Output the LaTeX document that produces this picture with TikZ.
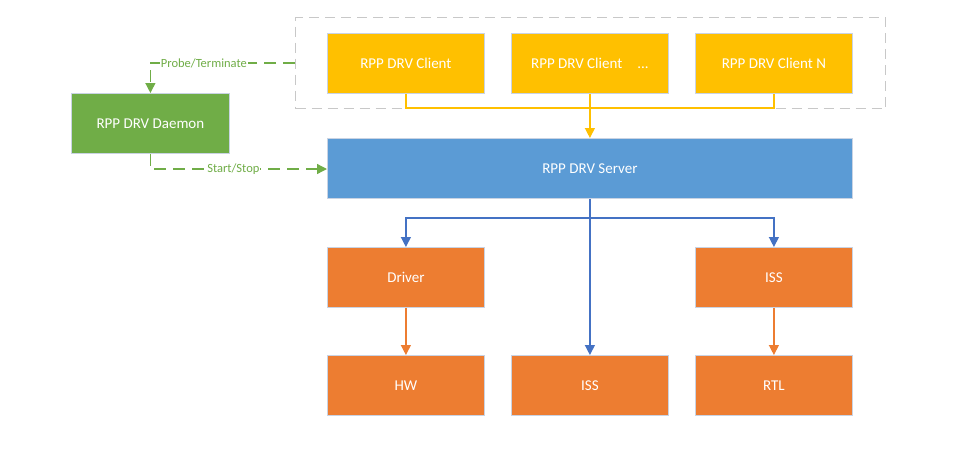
\documentclass[tikz,border=0pt]{standalone}
\usepackage{fontspec}
\setmainfont{Carlito}
\usetikzlibrary{arrows.meta,positioning}
\definecolor{cyel}{HTML}{FFC000}
\definecolor{cblue}{HTML}{5B9BD5}
\definecolor{corange}{HTML}{ED7D31}
\definecolor{cgreen}{HTML}{70AD47}
\definecolor{cline}{HTML}{4472C4}
\definecolor{cgray}{HTML}{C8C8C8}
\definecolor{cedge}{HTML}{C9D3E3}
\begin{document}
\begin{tikzpicture}[x=1pt,y=-1pt,
  boxst/.style={draw=cedge,line width=0.8pt,text=white,font=\fontsize{15}{17}\selectfont,inner sep=0pt,anchor=north west},
  yelbox/.style={boxst,fill=cyel,minimum width=157pt,minimum height=60pt},
  orbox/.style={boxst,fill=corange,minimum width=157pt,minimum height=60pt},
  conn/.style={line width=1.3pt,-{Triangle[length=10pt,width=10pt]}},
  dsh/.style={cgreen,line width=1.3pt,dash pattern=on 12pt off 7pt},
  lbl/.style={fill=white,text=cgreen,font=\fontsize{12.5}{14}\selectfont,inner sep=1pt}
]
\useasboundingbox (0,0) rectangle (955,450);
% dashed group
\node[draw=cgray,line width=1.2pt,dash pattern=on 10pt off 6pt,anchor=north west,minimum width=590pt,minimum height=91pt,inner sep=0pt] (grp) at (295,17) {};
\node[yelbox] (c1) at (327,33) {RPP DRV Client};
\node[yelbox] (c2) at (511,33) {RPP DRV Client\quad...};
\node[yelbox] (c3) at (695,33) {RPP DRV Client N};
\node[boxst,fill=cblue,minimum width=525pt,minimum height=60pt] (srv) at (327,138) {RPP DRV Server};
\node[boxst,fill=cgreen,minimum width=158pt,minimum height=60pt] (dmn) at (71,93) {RPP DRV Daemon};
\node[orbox] (drv) at (327,247) {Driver};
\node[orbox] (iss1) at (695,247) {ISS};
\node[orbox] (hw) at (327,355) {HW};
\node[orbox] (iss2) at (511,355) {ISS};
\node[orbox] (rtl) at (695,355) {RTL};
\coordinate (ybus) at (0,108);
\coordinate (bbus) at (0,218);
% yellow
\draw[cyel,line width=1.3pt] (c1.south) |- (ybus -| c3.south) -- (c3.south);
\draw[cyel,line width=1.3pt] (c2.south) -- (ybus -| c2.south);
\draw[cyel,conn] (ybus -| srv.north) -- (srv.north);
% blue
\draw[cline,conn] (srv.south) -- (iss2.north);
\draw[cline,conn] (bbus -| srv.south) -| (drv.north);
\draw[cline,conn] (bbus -| srv.south) -| (iss1.north);
% orange
\draw[corange,conn] (drv.south) -- (hw.north);
\draw[corange,conn] (iss1.south) -- (rtl.north);
% green
\coordinate (pcorner) at (dmn.north |- 0,63);
\draw[dsh,-{Triangle[length=10pt,width=10pt]}] (grp.west |- 0,63) -- (pcorner) node[lbl,pos=0.63] {Probe/Terminate} -- (dmn.north);
\coordinate (scorner) at (dmn.south |- 0,169);
\draw[dsh,-{Triangle[length=10pt,width=10pt]}] (dmn.south) -- (scorner) -- (scorner -| srv.west) node[lbl,pos=0.47] {Start/Stop};
\end{tikzpicture}
\end{document}
